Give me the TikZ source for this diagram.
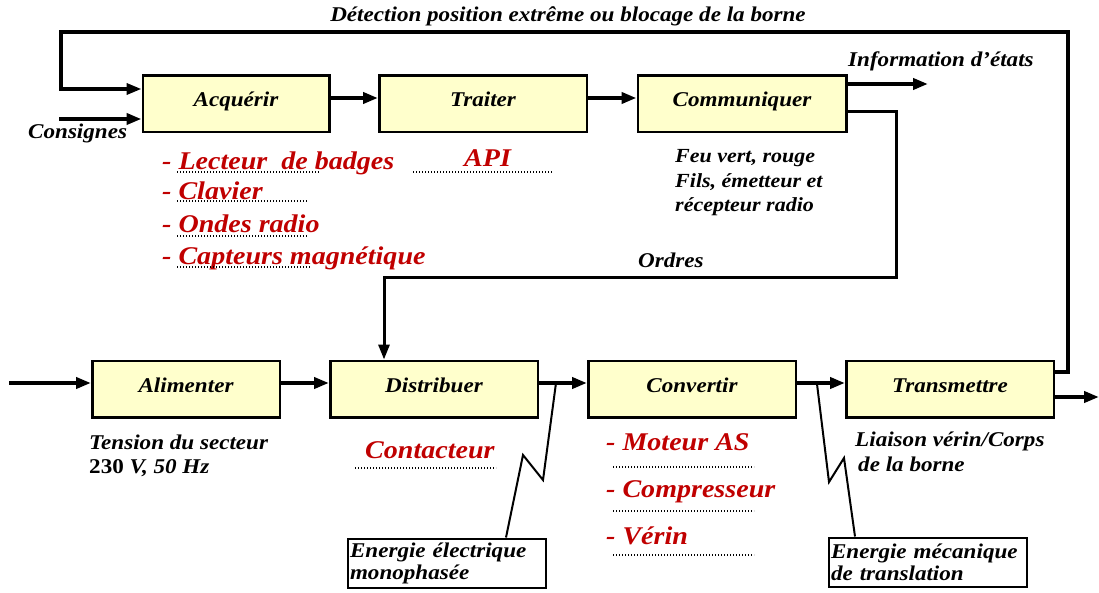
\documentclass[tikz,border=0pt]{standalone}
\usepackage{fontspec}
\setmainfont[FakeStretch=1.1]{Liberation Serif}
\usetikzlibrary{arrows.meta}
\definecolor{jaune}{RGB}{255,255,204}
\definecolor{rouge}{RGB}{192,0,0}
\begin{document}
\begin{tikzpicture}[x=1pt, y=-1pt,
  every node/.style={inner sep=0pt, font=\bfseries\itshape\fontsize{21}{22}\selectfont},
  fonction/.style={draw, line width=2.5pt, fill=jaune, minimum height=56.5pt, text height=14pt, text depth=8pt, font=\bfseries\itshape\fontsize{21}{21}\selectfont},
  energie/.style={draw, line width=2pt, align=left, inner xsep=2pt, text width=194pt, minimum height=49pt},
  choix/.style={anchor=base west, text=rouge, font=\bfseries\itshape\fontsize{25.5}{25}\selectfont},
  fleche/.style={line width=4pt, -{Triangle[length=15pt, width=11pt]}},
  pointille/.style={line width=1.3pt, dash pattern=on 1.3pt off 1.7pt},
  eclair/.style={line width=2pt}]
\useasboundingbox (0,0) rectangle (1099,593);

% blocs fonctionnels
\foreach \nom/\x/\y/\larg/\texte in {acq/236/104/186.5/Acquérir, trai/483/104/207.5/Traiter, com/742/104/208.5/Communiquer,
    ali/186/389/187.5/Alimenter, dis/434/389/207.5/Distribuer, conv/692/389/207.5/Convertir, trans/950/389/207.5/Transmettre}
  \node[fonction, minimum width=\larg pt] (\nom) at (\x,\y) {\texte};

\node[energie] (elec) at (447,563) {Energie électrique\\monophasée};
\node[energie] (meca) at (928,562) {Energie mécanique\\de translation};

\coordinate (consigne) at (59,119);
\coordinate (info) at (928,84);
\coordinate (entree) at (9,383);
\coordinate (sortie) at (1099,397);

% chaine d'information
\draw[fleche] (consigne) -- ([yshift=-15pt]acq.west);
\draw[fleche] ([yshift=6pt]acq.east) -- ([yshift=6pt]trai.west);
\draw[fleche] ([yshift=6pt]trai.east) -- ([yshift=6pt]com.west);
\draw[fleche] ([yshift=20pt]com.east) -- (info);
\draw[fleche, line width=3pt] ([yshift=-8pt]com.east) -| (896,278) -| ([xshift=-50pt]dis.north);

% chaine d'energie
\draw[fleche] (entree) -- ([yshift=6pt]ali.west);
\draw[fleche] ([yshift=6pt]ali.east) -- ([yshift=6pt]dis.west);
\draw[fleche] ([yshift=6pt]dis.east) -- ([yshift=6pt]conv.west);
\draw[fleche] ([yshift=6pt]conv.east) -- ([yshift=6pt]trans.west);
\draw[fleche] ([yshift=-8pt]trans.east) -- (sortie);
\draw[fleche, line width=3.5pt] ([yshift=17pt]trans.east) -| (1068,32) -- (61,32) |- ([yshift=15pt]acq.west);

\draw[eclair] ([xshift=17pt,yshift=6pt]dis.east) -- (543,480) -- (523,455) -- ([xshift=59pt]elec.north);
\draw[eclair] ([xshift=20pt,yshift=5pt]conv.east) -- (829,482) -- (844,458) -- ([xshift=-73pt]meca.north);

% textes
\node[anchor=base] (detection) at (568,22) {Détection position extrême ou blocage de la borne};
\node[anchor=base west] (consignes) at (28,139) {Consignes};
\node[anchor=base west] (etats) at (848,67) {Information d'états};
\node[anchor=base west] (ordres) at (638,268) {Ordres};
\foreach \nom/\y/\ligne in {feu/163/{Feu vert, rouge}, fils/188/{Fils, émetteur et}, recepteur/212/{récepteur radio}}
  \node[anchor=base west, font=\bfseries\itshape\fontsize{20}{22}\selectfont] (\nom) at (675,\y) {\ligne};
\node[anchor=base west] (tension) at (89,449) {Tension du secteur};
\node[anchor=base west] (secteur) at (89,473) {{\upshape 230} V, 50 Hz};
\node[anchor=base west] (liaison) at (855,446) {Liaison vérin/Corps};
\node[anchor=base west] (borne) at (858,471) {de la borne};

% solutions techniques
\foreach \nom/\y/\texte in {lecteur/170/{- Lecteur\ \ de badges}, clavier/200/- Clavier, ondes/233/- Ondes radio, capteurs/265/- Capteurs magnétique}
  \node[choix] (\nom) at (162,\y) {\texte};
\node[choix] (api) at (464,167) {API};
\node[choix] (contacteur) at (365,458) {Contacteur};
\foreach \nom/\y/\texte in {moteur/450/- Moteur AS, compresseur/497/- Compresseur, verin/544/- Vérin}
  \node[choix] (\nom) at (606,\y) {\texte};
\foreach \xa/\xb/\y in {177/319/172, 177/308/201, 177/308/236, 177/310/267, 413/553/172, 355/496/468, 613/754/467, 613/754/511, 613/754/555}
  \draw[pointille] (\xa,\y) -- (\xb,\y);
\end{tikzpicture}
\end{document}
